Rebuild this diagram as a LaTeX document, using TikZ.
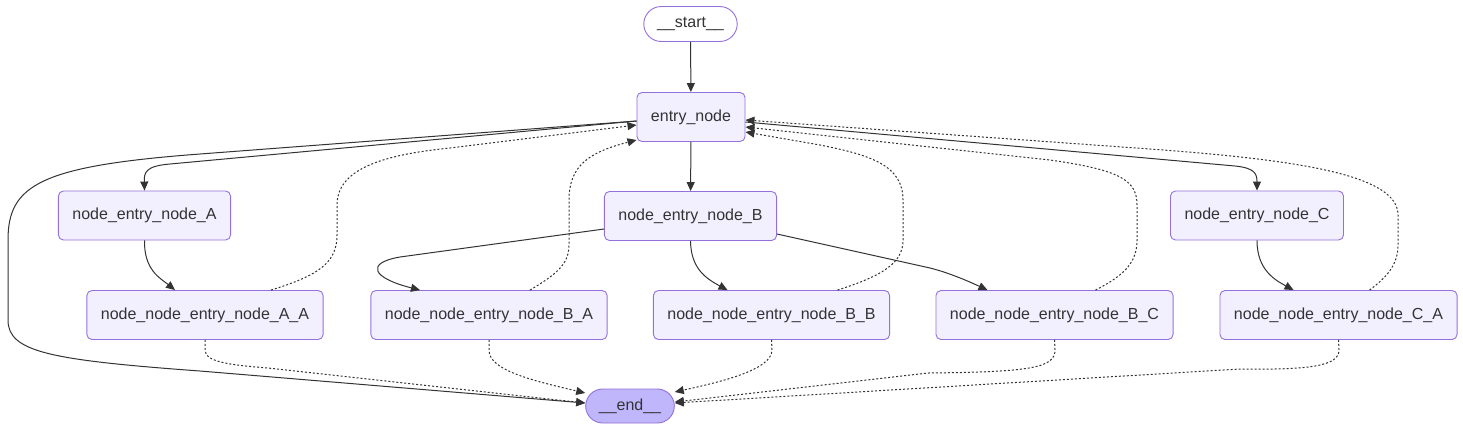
\documentclass[tikz,border=0pt]{standalone}
\usepackage{fontspec}
\setmainfont{Liberation Sans}
\usepackage{xcolor}
\usetikzlibrary{arrows.meta,shapes.misc}
\definecolor{wiregray}{HTML}{333333}
\definecolor{boxfill}{HTML}{F2F0FF}
\definecolor{boxline}{HTML}{9370DB}
\definecolor{endfill}{HTML}{BFB6FC}
\tikzset{
  box/.style={draw=boxline, fill=boxfill, rounded corners=5pt, line width=0.9pt,
    minimum height=49pt, inner xsep=14pt, text=wiregray,
    font=\fontsize{16}{19}\selectfont},
  term/.style={rounded rectangle, draw=boxline, line width=0.9pt, text=wiregray,
    minimum height=35pt, inner xsep=12pt, font=\fontsize{16}{19}\selectfont},
  flow/.style={wiregray, line width=1pt, -{Triangle[length=9pt,width=8pt]}},
  cond/.style={flow, dash pattern=on 2pt off 2pt}
}

\begin{document}
\begin{tikzpicture}[x=1pt, y=-1pt]
  \useasboundingbox (0,0) rectangle (1463,432);

  \node[term, fill=white, minimum width=91pt] (start) at (690.5,24) {\_\_start\_\_};
  \node[box] (entry) at (691,117) {entry\_node};
  \node[box] (nA) at (144.5,215.5) {node\_entry\_node\_A};
  \node[box] (nB) at (690.5,216) {node\_entry\_node\_B};
  \node[box] (nC) at (1257,215.5) {node\_entry\_node\_C};
  \node[box] (nAA) at (205,315) {node\_node\_entry\_node\_A\_A};
  \node[box] (nBA) at (489,315) {node\_node\_entry\_node\_B\_A};
  \node[box] (nBB) at (771.5,315) {node\_node\_entry\_node\_B\_B};
  \node[box] (nBC) at (1054.5,315) {node\_node\_entry\_node\_B\_C};
  \node[box] (nCA) at (1338.5,315) {node\_node\_entry\_node\_C\_A};
  \node[term, fill=endfill, inner xsep=11.5pt, minimum height=34pt] (end) at (630,406) {\_\_end\_\_};

  % plain edges
  \draw[flow] (start) -- (entry);
  \draw[flow] (entry) -- (nB);
  \draw[flow] ([yshift=-4pt]entry.west) -- (170,164) .. controls (146,166) and (144,172) .. (nA.north);
  \draw[flow] ([yshift=-5pt]entry.east) -- (1235,166) .. controls (1255,168) and (1257,174) .. (nC.north);
  \draw[flow] ([yshift=-4pt]entry.west) -- (200,154) .. controls (40,166) and (8,185) .. (8,240)
    -- (8,320) .. controls (8,352) and (50,360) .. (200,371) -- ([yshift=3pt]end.west);
  \draw[flow] (nA.south) .. controls (144,270) and (160,278) .. ([xshift=-30pt]nAA.north);
  \draw[flow] ([yshift=-13pt]nB.west) -- (400,257) .. controls (365,263) and (372,278) .. ([xshift=-69pt]nBA.north);
  \draw[flow] (nB.south) .. controls (691,268) and (705,278) .. ([xshift=-44pt]nBB.north);
  \draw[flow] ([yshift=-18pt]nB.east) -- (930,268) .. controls (950,273) and (970,282) .. ([xshift=-67pt]nBC.north);
  \draw[flow] (nC.south) .. controls (1257,270) and (1275,280) .. ([xshift=-45pt]nCA.north);

  % back to entry
  \draw[cond] ([xshift=66pt]nAA.north) .. controls (320,275) and (337,262) .. (337,235)
    -- (337,205) .. controls (337,170) and (380,155) .. (450,148) -- ([yshift=-8pt]entry.west);
  \draw[cond] ([xshift=41pt]nBA.north) .. controls (555,275) and (569,265) .. (569,245)
    -- (569,200) .. controls (569,165) and (590,152) .. ([yshift=-23pt]entry.west);
  \draw[cond] ([xshift=66pt]nBB.north) .. controls (885,275) and (903,262) .. (903,240)
    -- (903,200) .. controls (903,165) and (870,155) .. (820,145) -- ([yshift=-15pt]entry.east);
  \draw[cond] ([xshift=41pt]nBC.north) .. controls (1125,275) and (1137,262) .. (1137,240)
    -- (1137,205) .. controls (1137,180) and (1120,170) .. (1050,160) -- ([yshift=-10pt]entry.east);
  \draw[cond] ([xshift=31pt]nCA.north) .. controls (1390,275) and (1398,262) .. (1398,245)
    -- (1398,215) .. controls (1398,175) and (1300,160) .. (1150,149) -- ([yshift=-3pt]entry.east);

  % down to end
  \draw[cond] (nAA.south) -- (205,350) .. controls (205,362) and (230,365) .. (268,368) -- ([yshift=3pt]end.west);
  \draw[cond] (nBA.south) -- (489,350) .. controls (489,370) and (530,380) .. ([yshift=13pt]end.west);
  \draw[cond] (nBB.south) -- (772,350) .. controls (772,370) and (720,382) .. ([yshift=14pt]end.east);
  \draw[cond] (nBC.south) -- (1055,350) .. controls (1055,368) and (1030,372) .. (928,373) -- ([yshift=4pt]end.east);
  \draw[cond] (nCA.south) -- (1339,350) .. controls (1339,366) and (1310,370) .. (1240,369) -- ([yshift=3pt]end.east);
\end{tikzpicture}
\end{document}
